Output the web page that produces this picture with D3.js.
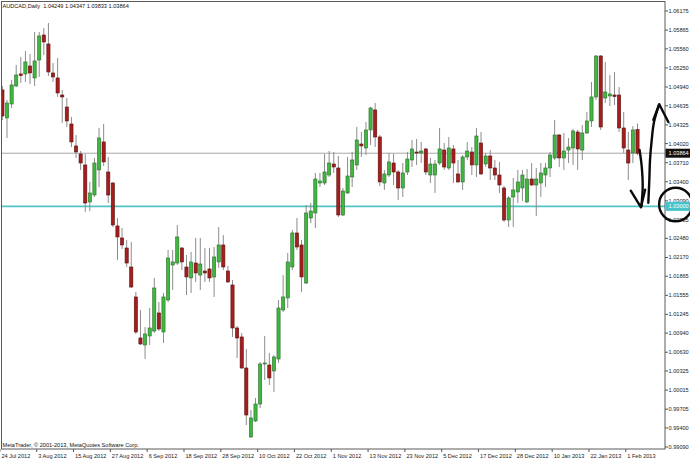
<!DOCTYPE html>
<html><head><meta charset="utf-8">
<script src="https://cdn.jsdelivr.net/npm/d3@7"></script>
<style>html,body{margin:0;padding:0;background:#fff;overflow:hidden}svg{display:block}</style>
</head><body><div id="chart"></div>
<script>
// ---------- data ----------
const symbolTitle = "AUDCAD,Daily";
const opens = [
1.04892,1.04437,1.04664,1.04957,1.05152,1.05152,1.05282,1.05087,1.05379,1.05785,
1.05639,1.05168,1.05087,1.04810,1.04615,1.04339,1.03982,1.03852,1.03673,1.03072,
1.03185,1.03592,1.04047,1.03559,1.03380,1.02682,1.02487,1.02324,1.02015,1.01528,
1.00862,1.00748,1.00894,1.00975,1.01268,1.00959,1.01479,1.02048,1.02080,1.02324,
1.02015,1.01837,1.02080,1.01885,1.01950,1.01983,1.01853,1.02097,1.02373,1.01950,
1.01723,1.01024,1.00878,1.00374,0.99253,0.99513,0.99789,1.00439,1.00423,1.00325,
1.00520,1.01317,1.01512,1.02015,1.02568,1.02373,1.01755,1.02811,1.02893,1.03380,
1.03380,1.03510,1.03689,1.03624,1.02860,1.03218,1.03478,1.03673,1.04014,1.03949,
1.04242,1.04567,1.04128,1.03380,1.03510,1.03705,1.03559,1.03299,1.03559,1.03754,
1.03884,1.03868,1.03933,1.03510,1.03510,1.03705,1.03916,1.03624,1.03933,1.03527,
1.03397,1.03803,1.03884,1.03673,1.04030,1.03689,1.03819,1.03624,1.03510,1.03299,
1.02779,1.03153,1.03234,1.03299,1.03072,1.03445,1.03348,1.03380,1.03510,1.03624,
1.03787,1.04160,1.03787,1.03916,1.03949,1.04209,1.03916,1.04193,1.04388,1.04778,
1.05444,1.04762,1.04794,1.04810,1.04810,1.04274,1.03916,1.03868,1.04249];
const highs = [
1.04957,1.04729,1.05054,1.05298,1.05428,1.05525,1.05477,1.05834,1.05834,1.05899,
1.05980,1.05330,1.05412,1.04892,1.04762,1.04453,1.04160,1.03900,1.03852,1.03397,
1.03787,1.04274,1.04339,1.03803,1.03397,1.02811,1.02649,1.02454,1.02422,1.01609,
1.01317,1.01040,1.01349,1.01837,1.01447,1.01593,1.02291,1.02291,1.02698,1.02340,
1.02210,1.02259,1.02487,1.02487,1.02324,1.02324,1.02340,1.02665,1.02535,1.02031,
1.01804,1.01056,1.00943,1.00683,0.99691,0.99887,1.00471,1.00894,1.00618,1.00585,
1.01479,1.01885,1.02243,1.02617,1.02811,1.02454,1.03023,1.03055,1.03543,1.03543,
1.03852,1.03900,1.03884,1.03819,1.03299,1.03803,1.03884,1.04290,1.04209,1.04371,
1.04615,1.04680,1.04160,1.03592,1.03868,1.03852,1.03592,1.03705,1.03884,1.04079,
1.04096,1.04047,1.03949,1.03787,1.03754,1.04274,1.04030,1.04128,1.03998,1.03754,
1.03835,1.04047,1.03965,1.04274,1.04209,1.03868,1.03916,1.03754,1.03722,1.03331,
1.03169,1.03462,1.03592,1.03592,1.03608,1.03705,1.03624,1.03705,1.03705,1.03884,
1.04404,1.04176,1.04193,1.04112,1.04258,1.04242,1.04323,1.04534,1.05022,1.05460,
1.05460,1.05347,1.05135,1.05184,1.04940,1.04534,1.04209,1.04306,1.04347];
const lows = [
1.04404,1.04112,1.04599,1.04940,1.05005,1.05022,1.04989,1.04957,1.05103,1.05460,
1.05119,1.05022,1.04778,1.04355,1.04290,1.03965,1.03787,1.03592,1.02909,1.02925,
1.03153,1.03315,1.03657,1.03055,1.02665,1.02129,1.02308,1.02015,1.01674,1.00927,
1.00748,1.00520,1.00748,1.00943,1.00975,1.00780,1.01447,1.01641,1.02048,1.01966,
1.01560,1.01593,1.01772,1.01641,1.01772,1.01772,1.01528,1.01999,1.01966,1.01755,
1.00878,1.00536,1.00358,0.99448,0.99237,0.99497,0.99724,1.00179,1.00098,0.99984,
1.00455,1.01284,1.01349,1.01966,1.02291,1.01609,1.01739,1.02730,1.02649,1.03315,
1.03348,1.03478,1.03543,1.02828,1.02844,1.03202,1.03315,1.03592,1.03803,1.03835,
1.03998,1.03965,1.03331,1.03267,1.03478,1.03348,1.03104,1.03153,1.03510,1.03640,
1.03673,1.03705,1.03510,1.03380,1.03218,1.03673,1.03592,1.03592,1.03380,1.03380,
1.03267,1.03754,1.03510,1.03478,1.03510,1.03640,1.03429,1.03429,1.03218,1.02746,
1.02665,1.02665,1.03055,1.03088,1.03055,1.03331,1.02844,1.03153,1.03315,1.03478,
1.03754,1.03640,1.03592,1.03705,1.03673,1.03592,1.03754,1.04176,1.04290,1.04729,
1.04242,1.04680,1.04631,1.04648,1.04209,1.03868,1.03429,1.03705,1.03833];
const closes = [
1.04469,1.04680,1.04973,1.05135,1.05127,1.05347,1.05168,1.05363,1.05769,1.05672,
1.05184,1.05103,1.04843,1.04778,1.04388,1.04047,1.03884,1.03705,1.03055,1.03218,
1.03705,1.04112,1.03722,1.03185,1.02698,1.02503,1.02373,1.02080,1.01690,1.00959,
1.00764,1.00927,1.01024,1.01674,1.01008,1.01528,1.02162,1.02097,1.02503,1.02097,
1.01853,1.02097,1.01918,1.02064,1.01918,1.01837,1.02178,1.02373,1.02015,1.01772,
1.01024,1.00862,1.00374,0.99610,0.99562,0.99789,1.00439,1.00455,1.00212,1.00553,
1.01349,1.01528,1.02097,1.02568,1.02340,1.01853,1.02893,1.02925,1.03445,1.03413,
1.03559,1.03705,1.03640,1.02860,1.03250,1.03494,1.03754,1.04079,1.03982,1.04242,
1.04599,1.04128,1.03397,1.03527,1.03722,1.03559,1.03299,1.03543,1.03770,1.03933,
1.03868,1.03900,1.03559,1.03689,1.03689,1.03933,1.03640,1.03949,1.03705,1.03397,
1.03803,1.03900,1.03673,1.04144,1.03527,1.03819,1.03624,1.03510,1.03348,1.02779,
1.03137,1.03267,1.03397,1.03510,1.03445,1.03348,1.03445,1.03543,1.03624,1.03835,
1.04160,1.03787,1.03900,1.03965,1.04225,1.03933,1.04193,1.04388,1.04778,1.05444,
1.04290,1.04859,1.04827,1.04786,1.04274,1.03949,1.03705,1.04242,1.03864];
const dateTickIndex = [0,8,16,24,32,40,48,56,64,72,80,88,96,104,112,120,128,136];
const dateLabels = ["24 Jul 2012","3 Aug 2012","15 Aug 2012","27 Aug 2012","6 Sep 2012",
"18 Sep 2012","28 Sep 2012","10 Oct 2012","22 Oct 2012","1 Nov 2012","13 Nov 2012",
"23 Nov 2012","5 Dec 2012","17 Dec 2012","28 Dec 2012","10 Jan 2013","22 Jan 2013","1 Feb 2013"];
const priceTicks = [1.06175,1.05865,1.05560,1.05250,1.04940,1.04635,1.04325,1.04020,1.03710,
1.03400,1.03090,1.02785,1.02480,1.02170,1.01865,1.01555,1.01245,1.00940,1.00630,1.00325,
1.00015,0.99705,0.99400,0.99090];
const bidPrice = 1.03864;
const levelPrice = 1.03000;
const copyright = "MetaTrader, \u00a9 2001-2013, MetaQuotes Software Corp.";
// hand-drawn annotations, in (bar index, price) units
const downShaft = [[138.45,1.03916],[138.92,1.03645],[139.13,1.03320],[138.85,1.03000]];
const downHead = [[136.53,1.03255],[138.75,1.02985],[139.65,1.03270]];
const upShaft = [[140.35,1.03060],[140.57,1.03429],[140.72,1.03754],[141.09,1.04079],[141.59,1.04370],[142.68,1.04648]];
const upHead = [[141.44,1.04404],[142.72,1.04660],[144.70,1.04370]];
const ring = {i:146.3, p:1.03030, ri:3.6, rp:0.00272};

// ---------- layout ----------
const W = 690, H = 460;
const plot = {l:1.5, t:1.5, r:665, b:449};
const n = opens.length;
const x = d3.scaleLinear().domain([0, n-1]).range([2.4, 637.5]);
const y = d3.scaleLinear().domain([0.99090, 1.06175]).range([447, 11]);
const FONT = "'Liberation Sans', Arial, sans-serif";
const FS = 5.6;

const svg = d3.select("#chart").append("svg").attr("width", W).attr("height", H)
  .style("font-family", FONT);
svg.append("rect").attr("width", W).attr("height", H).attr("fill", "#fff");

svg.append("clipPath").attr("id","pc").append("rect")
  .attr("x", plot.l).attr("y", plot.t).attr("width", plot.r-plot.l).attr("height", plot.b-plot.t);

// horizontal lines
svg.append("line").attr("x1", plot.l).attr("x2", plot.r)
  .attr("y1", y(bidPrice)).attr("y2", y(bidPrice)).attr("stroke", "#a8a8a8").attr("stroke-width", 1);
svg.append("line").attr("x1", plot.l).attr("x2", plot.r)
  .attr("y1", y(levelPrice)).attr("y2", y(levelPrice)).attr("stroke", "#52c4c8").attr("stroke-width", 1.8);

// candles
const data = d3.range(n).map(i => ({i, o:opens[i], h:highs[i], l:lows[i], c:closes[i]}));
const cg = svg.append("g").attr("clip-path", "url(#pc)");
const cand = cg.selectAll("g.c").data(data).join("g").attr("class","c");
cand.append("line")
  .attr("x1", d => x(d.i)).attr("x2", d => x(d.i))
  .attr("y1", d => y(d.h)).attr("y2", d => y(d.l))
  .attr("stroke", "#8c8c8c").attr("stroke-width", 1);
cand.append("rect")
  .attr("x", d => x(d.i) - 1.6).attr("width", 3.2)
  .attr("y", d => y(Math.max(d.o, d.c)))
  .attr("height", d => Math.max(1, Math.abs(y(d.o) - y(d.c))))
  .attr("fill", d => d.c >= d.o ? "#3fb83f" : "#a41e1e")
  .attr("stroke", d => d.c >= d.o ? "#2f6b2f" : "#5c1010")
  .attr("stroke-width", 0.6);

// frame
svg.append("rect").attr("x", plot.l).attr("y", plot.t)
  .attr("width", plot.r-plot.l).attr("height", plot.b-plot.t)
  .attr("fill", "none").attr("stroke", "#5a5a5a").attr("stroke-width", 1);

// right price axis
const pa = svg.append("g");
pa.selectAll("line").data(priceTicks).join("line")
  .attr("x1", plot.r).attr("x2", plot.r+3)
  .attr("y1", d => y(d)).attr("y2", d => y(d)).attr("stroke", "#555");
pa.selectAll("text").data(priceTicks).join("text")
  .attr("x", plot.r+3.5).attr("y", d => y(d)+2)
  .attr("font-size", FS).attr("fill", "#222").text(d => d.toFixed(5));

// bottom time axis
const ta = svg.append("g");
ta.selectAll("line").data(dateTickIndex).join("line")
  .attr("x1", d => x(d)-2.5).attr("x2", d => x(d)-2.5)
  .attr("y1", plot.b).attr("y2", plot.b+3).attr("stroke", "#555");
ta.selectAll("text").data(dateTickIndex).join("text")
  .attr("x", (d) => x(d)-1).attr("y", 457.5)
  .attr("font-size", FS).attr("fill", "#222").text((d,k) => dateLabels[k]);

// price label boxes
function tag(v, bg) {
  const g = svg.append("g");
  g.append("rect").attr("x", plot.r+0.5).attr("y", y(v)-4.5).attr("width", W-plot.r).attr("height", 9).attr("fill", bg);
  g.append("text").attr("x", plot.r+3.5).attr("y", y(v)+2).attr("font-size", FS)
    .attr("fill", "#fff").text(v.toFixed(5));
}
tag(bidPrice, "#111");
tag(levelPrice, "#45c3c9");

// titles
const last = n-1;
svg.append("text").attr("x", 2.5).attr("y", 8).attr("font-size", FS).attr("fill", "#111")
  .style("white-space", "pre")
  .text(symbolTitle + "  " + [opens[last],highs[last],lows[last],closes[last]].map(v=>v.toFixed(5)).join(" "));
svg.append("text").attr("x", 2.5).attr("y", 447).attr("font-size", FS).attr("fill", "#111")
  .text(copyright);

// hand-drawn annotations
const ln = d3.line().x(d => x(d[0])).y(d => y(d[1])).curve(d3.curveCatmullRom);
const ln2 = d3.line().x(d => x(d[0])).y(d => y(d[1]));
const ann = svg.append("g").attr("fill","none").attr("stroke","#0a0a0a")
  .attr("stroke-width", 2.4).attr("stroke-linecap","round").attr("stroke-linejoin","round");
ann.append("path").attr("d", ln(downShaft));
ann.append("path").attr("d", ln2(downHead));
ann.append("path").attr("d", ln(upShaft));
ann.append("path").attr("d", ln2(upHead));
ann.append("ellipse").attr("cx", x(ring.i)).attr("cy", y(ring.p))
  .attr("rx", x(ring.i+ring.ri)-x(ring.i)).attr("ry", y(ring.p-ring.rp)-y(ring.p));
</script>
</body></html>
